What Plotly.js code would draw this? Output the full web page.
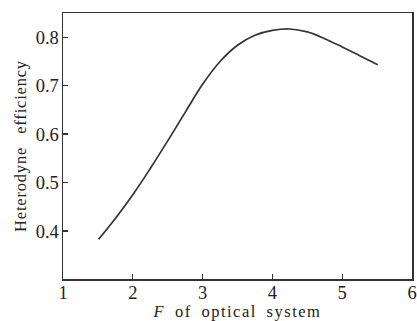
<!DOCTYPE html>
<html>
<head>
<meta charset="utf-8">
<script src="https://cdn.plot.ly/plotly-3.0.1.min.js"></script>
<style>
html,body{margin:0;padding:0;background:#fff;}
#chart{width:417px;height:321px;}
.xtitle{letter-spacing:1.5px;}
.ytitle{letter-spacing:0.8px;}
</style>
</head>
<body>
<div id="chart"></div>
<script>
const fNumber = [1.51, 1.75, 2.00, 2.25, 2.50, 2.75, 3.00, 3.25, 3.50, 3.75, 4.00, 4.25, 4.50, 4.75, 5.00, 5.25, 5.51];
const efficiency = [0.383, 0.426, 0.475, 0.529, 0.586, 0.645, 0.703, 0.750, 0.7835, 0.804, 0.814, 0.817, 0.811, 0.797, 0.780, 0.762, 0.743];
const xTicks = [1, 2, 3, 4, 5, 6];
const yTicks = [0.4, 0.5, 0.6, 0.7, 0.8];
const xTitle = '<i>F</i>\u2002of\u2002optical\u2002system';
const yTitle = 'Heterodyne\u2002\u2009efficiency';

const fam = 'Liberation Serif, Times New Roman, serif';
const tickFont = {family: fam, size: 18.5, color: '#222'};
const titleFont = {family: fam, size: 16.5, color: '#222'};

Plotly.newPlot('chart', [{
  x: fNumber, y: efficiency, type: 'scatter', mode: 'lines',
  line: {color: '#333', width: 1.7, shape: 'spline', smoothing: 1.1},
  hoverinfo: 'none'
}], {
  width: 417, height: 321,
  margin: {l: 63, r: 5, t: 13, b: 42},
  paper_bgcolor: '#fff', plot_bgcolor: '#fff',
  showlegend: false,
  font: titleFont,
  xaxis: {
    range: [1, 6], tickvals: xTicks, ticktext: xTicks.map(String),
    ticks: 'inside', ticklen: 5, tickwidth: 1.3, tickcolor: '#333',
    showline: true, linecolor: '#333', linewidth: 1.5, mirror: true,
    showgrid: false, zeroline: false,
    tickfont: tickFont, ticklabelstandoff: -4,
    title: {text: xTitle, font: titleFont, standoff: 2}
  },
  yaxis: {
    range: [0.301, 0.85], tickvals: yTicks, ticktext: yTicks.map(v => v.toFixed(1)),
    ticks: 'inside', ticklen: 5, tickwidth: 1.3, tickcolor: '#333',
    showline: true, linecolor: '#333', linewidth: 1.5, mirror: true,
    showgrid: false, zeroline: false,
    tickfont: tickFont, ticklabelstandoff: -1,
    title: {text: yTitle, font: titleFont, standoff: 5}
  }
}, {staticPlot: true, displayModeBar: false});
</script>
</body>
</html>
